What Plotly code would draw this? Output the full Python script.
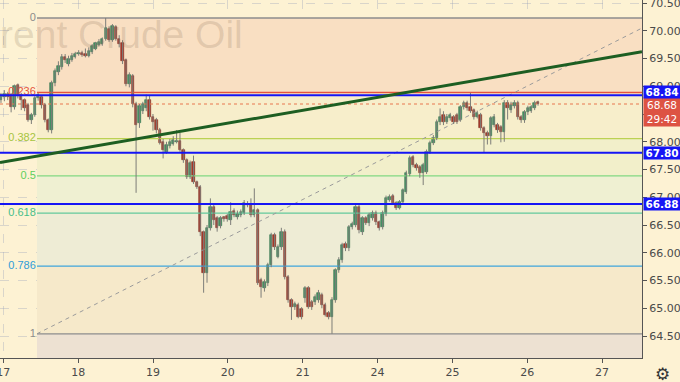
import plotly.graph_objects as go

# ---------------- data ----------------
day_labels = ["17", "18", "19", "20", "21", "24", "25", "26", "27"]
candles_per_day = 22.16
first_candle_offset = -0.031

opens = [68.75, 68.80, 68.86, 68.84, 68.62, 69.02, 68.84, 68.75, 68.66, 68.39,
         68.48, 68.78, 68.80, 68.66, 68.39, 68.21, 69.06, 69.25, 69.35, 69.53,
         69.40, 69.47, 69.53, 69.58, 69.60, 69.58, 69.55, 69.62, 69.68, 69.75,
         69.76, 69.85, 70.04, 69.83, 70.06, 69.86, 69.78, 69.47, 69.04, 69.18,
         68.68, 68.34, 68.55, 68.60, 68.75, 68.45, 68.39, 68.21, 68.00, 67.82,
         67.92, 67.96, 68.00, 68.01, 67.85, 67.67, 67.37, 67.64, 67.28, 67.19,
         66.37, 65.64, 66.45, 66.82, 66.62, 66.48, 66.64, 66.66, 66.59, 66.75,
         66.64, 66.68, 66.72, 66.88, 66.88, 66.68, 66.77, 65.51, 65.37, 65.46,
         65.78, 66.32, 65.93, 66.10, 66.37, 65.56, 65.15, 65.02, 65.06, 64.99,
         65.18, 65.36, 65.12, 65.12, 65.15, 65.24, 65.06, 64.92, 64.84, 65.15,
         65.69, 65.87, 66.16, 66.08, 66.46, 66.50, 66.82, 66.37, 66.62, 66.54,
         66.62, 66.72, 66.55, 66.46, 66.70, 66.95, 67.03, 66.90, 66.81, 66.91,
         67.10, 67.42, 67.72, 67.58, 67.54, 67.44, 67.46, 67.82, 67.98, 68.07,
         68.36, 68.48, 68.36, 68.42, 68.45, 68.48, 68.40, 68.62, 68.70, 68.62,
         68.57, 68.45, 68.48, 68.25, 68.16, 68.10, 68.30, 68.30, 68.26, 68.17,
         68.70, 68.57, 68.64, 68.70, 68.45, 68.39, 68.54, 68.56, 68.61, 68.72]
highs = [68.88, 68.93, 68.90, 68.88, 69.03, 69.05, 68.88, 68.78, 68.70, 68.52,
         68.82, 68.88, 68.84, 68.70, 68.42, 69.10, 69.32, 69.45, 69.58, 69.58,
         69.55, 69.60, 69.62, 69.65, 69.64, 69.68, 69.70, 69.76, 69.80, 69.85,
         69.88, 70.23, 70.08, 70.12, 70.10, 69.92, 69.83, 69.50, 69.25, 69.22,
         68.72, 68.68, 68.72, 68.85, 68.84, 68.50, 68.43, 68.25, 68.05, 68.00,
         68.05, 68.10, 68.21, 68.16, 67.88, 67.70, 67.66, 67.75, 67.30, 67.22,
         66.40, 66.50, 66.98, 66.86, 66.66, 66.66, 66.66, 66.70, 66.91, 66.80,
         66.76, 66.78, 66.95, 66.93, 66.98, 67.16, 66.80, 65.55, 65.52, 65.82,
         66.36, 66.36, 66.15, 66.45, 66.42, 65.60, 65.18, 65.12, 65.10, 65.02,
         65.40, 65.40, 65.15, 65.25, 65.33, 65.28, 65.10, 64.95, 65.20, 65.72,
         65.92, 66.18, 66.20, 66.50, 66.56, 66.86, 66.86, 66.66, 66.66, 66.72,
         66.76, 66.76, 66.58, 66.76, 67.03, 67.05, 67.06, 66.93, 66.95, 67.16,
         67.48, 67.75, 67.76, 67.62, 67.58, 67.62, 67.86, 68.02, 68.12, 68.40,
         68.60, 68.55, 68.50, 68.52, 68.48, 68.52, 68.66, 68.74, 68.74, 68.88,
         68.60, 68.56, 68.52, 68.28, 68.20, 68.46, 68.50, 68.34, 68.30, 68.75,
         68.75, 68.72, 68.75, 68.74, 68.48, 68.57, 68.65, 68.66, 68.74, 68.74]
lows = [68.70, 68.73, 68.75, 68.53, 68.58, 68.78, 68.57, 68.55, 68.36, 68.32,
        68.45, 68.74, 68.60, 68.35, 68.17, 68.15, 69.00, 69.20, 69.30, 69.42,
        69.36, 69.44, 69.50, 69.55, 69.53, 69.52, 69.52, 69.58, 69.65, 69.72,
        69.73, 69.82, 69.80, 69.80, 69.82, 69.70, 69.40, 69.00, 68.98, 68.62,
        67.08, 68.25, 68.50, 68.55, 68.40, 68.20, 68.15, 67.95, 67.70, 67.78,
        67.88, 67.93, 67.97, 67.82, 67.62, 67.33, 67.33, 67.24, 67.15, 66.30,
        65.28, 65.46, 66.40, 66.50, 66.38, 66.44, 66.56, 66.56, 66.50, 66.64,
        66.60, 66.64, 66.68, 66.82, 66.64, 66.64, 65.42, 65.19, 65.30, 65.40,
        65.74, 66.05, 65.90, 66.05, 65.52, 65.10, 64.79, 64.97, 64.82, 64.80,
        65.10, 64.99, 64.97, 65.06, 65.10, 65.00, 64.85, 64.80, 64.54, 65.10,
        65.64, 65.82, 66.03, 66.03, 66.42, 66.46, 66.35, 66.32, 66.50, 66.48,
        66.58, 66.50, 66.40, 66.42, 66.66, 66.92, 66.86, 66.77, 66.78, 66.88,
        67.06, 67.38, 67.54, 67.48, 67.35, 67.22, 67.42, 67.78, 67.94, 68.03,
        68.30, 68.30, 68.32, 68.38, 68.32, 68.32, 68.36, 68.58, 68.56, 68.52,
        68.40, 68.42, 68.20, 67.81, 67.95, 67.95, 68.26, 68.16, 67.99, 68.00,
        68.40, 68.52, 68.60, 68.40, 68.34, 68.34, 68.48, 68.52, 68.57, 68.65]
closes = [68.84, 68.86, 68.80, 68.62, 69.00, 68.82, 68.75, 68.60, 68.39, 68.48,
          68.78, 68.84, 68.66, 68.39, 68.21, 69.06, 69.28, 69.37, 69.53, 69.47,
          69.50, 69.55, 69.58, 69.60, 69.56, 69.55, 69.64, 69.72, 69.78, 69.80,
          69.85, 70.05, 69.83, 70.08, 69.86, 69.76, 69.45, 69.04, 69.20, 68.68,
          68.30, 68.64, 68.68, 68.75, 68.45, 68.35, 68.21, 67.98, 67.85, 67.94,
          68.00, 68.03, 68.01, 67.85, 67.67, 67.37, 67.62, 67.28, 67.19, 66.37,
          65.64, 66.45, 66.82, 66.59, 66.45, 66.62, 66.60, 66.60, 66.73, 66.68,
          66.70, 66.73, 66.90, 66.86, 66.68, 66.77, 65.46, 65.38, 65.48, 65.78,
          66.32, 66.10, 66.11, 66.37, 65.56, 65.15, 65.02, 65.08, 64.84, 64.84,
          65.36, 65.02, 65.02, 65.21, 65.28, 65.06, 64.88, 64.84, 65.15, 65.69,
          65.87, 66.14, 66.08, 66.46, 66.52, 66.82, 66.41, 66.62, 66.54, 66.68,
          66.72, 66.55, 66.44, 66.72, 66.99, 67.00, 66.90, 66.81, 66.91, 67.13,
          67.44, 67.70, 67.58, 67.53, 67.44, 67.58, 67.82, 67.98, 68.07, 68.36,
          68.45, 68.36, 68.45, 68.48, 68.36, 68.36, 68.62, 68.70, 68.61, 68.55,
          68.45, 68.52, 68.25, 68.16, 68.10, 68.42, 68.45, 68.21, 68.17, 68.70,
          68.61, 68.66, 68.70, 68.45, 68.39, 68.54, 68.61, 68.62, 68.70, 68.68]

fib_high = 70.23
fib_low = 64.54
fib_levels = [0, 0.236, 0.382, 0.5, 0.618, 0.786, 1]
fib_level_text = ["0", "0.236", "0.382", "0.5", "0.618", "0.786", "1"]
fib_start_t = 0.45
fib_end_t = 8.80

blue_levels = [68.84, 67.80, 66.88]
blue_label_shift = [3.5, 0, 0]
last_price = 68.68
countdown = "29:42"

trend_t = [-0.044, 8.533]
trend_p = [67.626, 69.623]

# ---------------- styles ----------------
BG = "#fdf2d3"
fib_line_colors = ["#8c8c8c", "#e5533d", "#bcd153", "#82d882", "#62c89d", "#3ea5dc", "#8c8c8c"]
fib_label_colors = ["#8c8c8c", "#e5533d", "#a6c43e", "#5dcf5d", "#47be89", "#2f9dd8", "#8c8c8c"]
fib_fills = ["#f9dfc2", "#f7eecb", "#f2efca", "#eff0d2", "#eeecd5", "#f6e9ca"]
below_fill = "#ede1d2"
UP_FILL, UP_LINE = "#469467", "#2f6e4a"
DN_FILL, DN_LINE = "#a93a2c", "#7e2a1f"
X_RANGE = [-0.044, 8.533]
Y_RANGE = [64.104, 70.554]

n = len(closes)
t = [first_candle_offset + i / candles_per_day for i in range(n)]
fib_prices = [fib_high - lv * (fib_high - fib_low) for lv in fib_levels]

fig = go.Figure()

# fib zone fills
shapes = []
for k in range(len(fib_levels) - 1):
    shapes.append(dict(type="rect", xref="x", yref="y", x0=fib_start_t, x1=fib_end_t + 2,
                       y0=fib_prices[k + 1], y1=fib_prices[k], fillcolor=fib_fills[k],
                       line=dict(width=0), layer="between"))
shapes.append(dict(type="rect", xref="x", yref="y", x0=fib_start_t, x1=fib_end_t + 2,
                   y0=fib_low - 3, y1=fib_low, fillcolor=below_fill,
                   line=dict(width=0), layer="between"))

# fib labels (below candles)
for k, p in enumerate(fib_prices):
    fig.add_trace(go.Scatter(x=[fib_start_t - 0.015], y=[p], mode="text",
                             text=[fib_level_text[k]], textposition="middle left",
                             textfont=dict(family="Liberation Sans", size=11,
                                           color=fib_label_colors[k]),
                             hoverinfo="skip", showlegend=False, cliponaxis=False))
# fib lines
for k, p in enumerate(fib_prices):
    fig.add_trace(go.Scatter(x=[fib_start_t, fib_end_t + 2], y=[p, p], mode="lines",
                             line=dict(color=fib_line_colors[k], width=1.3),
                             hoverinfo="skip", showlegend=False))
# fib trend (dashed diagonal)
fig.add_trace(go.Scatter(x=[fib_start_t, fib_end_t], y=[fib_low, fib_high], mode="lines",
                         line=dict(color="#9b9b9b", width=1, dash="4px,4px"),
                         hoverinfo="skip", showlegend=False))
# last price dotted line
fig.add_trace(go.Scatter(x=[X_RANGE[0], X_RANGE[1] + 1], y=[last_price, last_price], mode="lines",
                         line=dict(color="#e8774f", width=1, dash="dot"),
                         hoverinfo="skip", showlegend=False))

# wicks
wx, wy = [], []
for i in range(n):
    wx += [t[i], t[i], None]
    wy += [lows[i], highs[i], None]
fig.add_trace(go.Scatter(x=wx, y=wy, mode="lines", line=dict(color="#7d7d78", width=1),
                         hoverinfo="skip", showlegend=False))
# bodies
base = [min(o, c) for o, c in zip(opens, closes)]
height = [max(abs(c - o), 0.02) for o, c in zip(opens, closes)]
fill = [UP_FILL if c >= o else DN_FILL for o, c in zip(opens, closes)]
edge = [UP_LINE if c >= o else DN_LINE for o, c in zip(opens, closes)]
fig.add_trace(go.Bar(x=t, y=height, base=base, width=0.7 / candles_per_day,
                     marker=dict(color=fill, line=dict(color=edge, width=0.6)),
                     hoverinfo="skip", showlegend=False))

# blue horizontal levels
for lv in blue_levels:
    fig.add_trace(go.Scatter(x=[X_RANGE[0] - 1, X_RANGE[1] + 1], y=[lv, lv], mode="lines",
                             line=dict(color="#1515f5", width=2),
                             hoverinfo="skip", showlegend=False))
# green trend line
fig.add_trace(go.Scatter(x=trend_t, y=trend_p, mode="lines",
                         line=dict(color="#1d5e22", width=3),
                         hoverinfo="skip", showlegend=False))

annotations = []
# watermark
annotations.append(dict(xref="paper", yref="paper", x=0, y=1, xanchor="left", yanchor="middle",
                        xshift=-28, yshift=-34, text="Brent Crude Oil", showarrow=False,
                        font=dict(family="Liberation Sans", size=39,
                                  color="rgba(130,105,80,0.2)")))
# red last-price label
annotations.append(dict(xref="paper", yref="y", x=1, y=last_price, xanchor="left", yanchor="top",
                        xshift=1, yshift=7, text=f"{last_price:.2f}<br>{countdown}",
                        showarrow=False, bgcolor="#dd5343", borderpad=1, width=34,
                        font=dict(family="DejaVu Sans", size=10.5, color="white")))
# blue level labels
for lv, sh in zip(blue_levels, blue_label_shift):
    annotations.append(dict(xref="paper", yref="y", x=1, y=lv, xanchor="left", yanchor="middle",
                            xshift=1, yshift=sh, text=f"<b>{lv:.2f}</b>", showarrow=False,
                            bgcolor="#1515f5", borderpad=1, width=34, height=10,
                            font=dict(family="DejaVu Sans", size=10.5, color="white")))
# gear icon
annotations.append(dict(xref="paper", yref="paper", x=1, y=0, xanchor="left", yanchor="top",
                        xshift=11, yshift=-4, text="⚙", showarrow=False,
                        font=dict(family="DejaVu Sans", size=17, color="#333333")))

fig.update_layout(
    width=680, height=382,
    margin=dict(l=0, r=38, t=0, b=24, autoexpand=False),
    paper_bgcolor=BG, plot_bgcolor=BG,
    showlegend=False, bargap=0,
    shapes=shapes, annotations=annotations,
    xaxis=dict(range=X_RANGE, tickmode="array", tickvals=list(range(len(day_labels))),
               ticktext=day_labels, showgrid=True, gridcolor="rgba(150,160,185,0.35)",
               griddash="dash", gridwidth=1, zeroline=False, automargin=False,
               showline=True, linecolor="#555555", linewidth=1, ticklabeloverflow="allow",
               ticks="outside", ticklen=4, tickcolor="#555555",
               tickfont=dict(family="DejaVu Sans", size=11, color="#4a4a4a")),
    yaxis=dict(range=Y_RANGE, side="right", tick0=64.5, dtick=0.5, tickformat=".2f",
               showgrid=True, gridcolor="rgba(150,160,185,0.35)", griddash="dash",
               zeroline=False, showline=True, linecolor="#555555", linewidth=1,
               ticks="outside", ticklen=4, tickcolor="#555555", automargin=False,
               ticklabeloverflow="allow",
               tickfont=dict(family="DejaVu Sans", size=11, color="#4a4a4a")),
)

fig.write_html("out.html", config={"displayModeBar": False},
               post_script="document.body.style.margin='0px';")
